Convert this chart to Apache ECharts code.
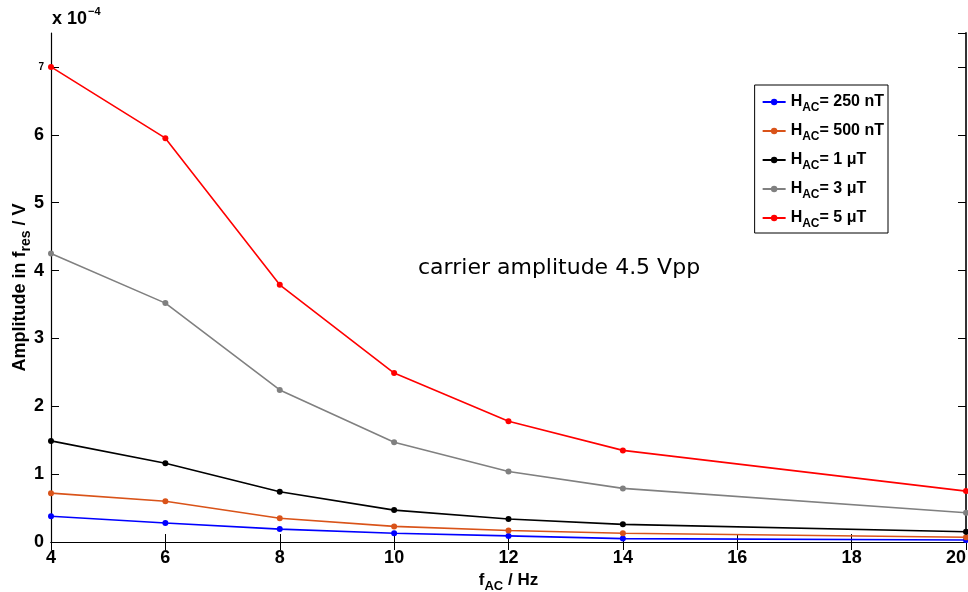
<!DOCTYPE html>
<html>
<head>
<meta charset="utf-8">
<script src="https://cdn.jsdelivr.net/npm/echarts@6/dist/echarts.min.js"></script>
<style>
  html, body { margin: 0; padding: 0; background: #fff; }
  #chart { width: 968px; height: 592px; }
</style>
</head>
<body>
<div id="chart"></div>
<script>
// frequency f_AC in Hz
const freqs = [4, 6, 8, 10, 12, 14, 20];
// field amplitude labels (legend)
const fields = ['250 nT', '500 nT', '1 μT', '3 μT', '5 μT'];
const colors = ['#0000ff', '#d95319', '#000000', '#808080', '#ff0000'];
// amplitude in f_res, units of 1e-4 V
const amp250n = [0.38, 0.28, 0.19, 0.13, 0.09, 0.05, 0.03];
const amp500n = [0.72, 0.60, 0.35, 0.23, 0.17, 0.13, 0.07];
const amp1u = [1.49, 1.16, 0.74, 0.47, 0.34, 0.26, 0.15];
const amp3u = [4.25, 3.52, 2.24, 1.47, 1.04, 0.79, 0.43];
const amp5u = [7.00, 5.95, 3.79, 2.49, 1.78, 1.35, 0.75];
const seriesValues = [amp250n, amp500n, amp1u, amp3u, amp5u];

const chart = echarts.init(document.getElementById('chart'));
const font = 'Liberation Sans, Arial, sans-serif';

const series = fields.map((f, i) => ({
  name: f,
  type: 'line',
  data: freqs.map((x, j) => [x, seriesValues[i][j]]),
  symbol: 'circle',
  symbolSize: 6,
  color: colors[i],
  lineStyle: { width: 1.6, color: colors[i] },
  itemStyle: { color: colors[i] },
  z: 2 + i
}));

const subRich = size => ({
  h: { fontFamily: font, fontWeight: 'bold', fontSize: size, color: '#000' },
  s: { fontFamily: font, fontWeight: 'bold', fontSize: size - 4, color: '#000', padding: [12, 0, 0, 0] }
});

const option = {
  animation: false,
  backgroundColor: '#fff',
  grid: { left: 51, right: 2, top: 33, bottom: 50, outerBoundsMode: 'none', containLabel: false },
  legend: {
    orient: 'vertical',
    right: 80,
    top: 85,
    backgroundColor: '#fff',
    borderColor: '#000',
    borderWidth: 1,
    borderRadius: 0,
    padding: [9, 4, 3, 7],
    itemGap: 9,
    itemWidth: 23,
    itemHeight: 8,
    data: fields,
    formatter: name => '{h|H}{s|AC}{h|= ' + name + '}',
    textStyle: { rich: subRich(16) }
  },
  xAxis: [{
    type: 'value',
    min: 4, max: 20, interval: 2,
    position: 'bottom',
    name: '{h|f}{s|AC}{h| / Hz}',
    nameLocation: 'middle',
    nameGap: 22,
    nameTextStyle: { rich: subRich(17) },
    axisLine: { lineStyle: { color: '#000', width: 1.2 } },
    axisTick: { inside: true, length: 8, lineStyle: { color: '#000' } },
    axisLabel: { margin: 7, alignMaxLabel: 'right', fontFamily: font, fontWeight: 'bold', fontSize: 18, color: '#000' },
    splitLine: { show: false }
  }, {
    type: 'value',
    min: 4, max: 20, interval: 2,
    position: 'top',
    axisLine: { lineStyle: { color: '#000', width: 1.2 } },
    axisTick: { inside: true, length: 8, lineStyle: { color: '#000' } },
    axisLabel: { show: false },
    splitLine: { show: false }
  }],
  yAxis: [{
    type: 'value',
    min: 0, max: 7.5, interval: 1,
    position: 'left',
    name: '{h|Amplitude in f}{s|res}{h| / V}',
    nameLocation: 'middle',
    nameGap: 18,
    nameMoveOverlap: false,
    nameTextStyle: { rich: subRich(18), padding: [0, 0, 0, 0] },
    axisLine: { lineStyle: { color: '#000', width: 1.2 } },
    axisTick: { inside: true, length: 8, lineStyle: { color: '#000' } },
    axisLabel: {
      margin: 7,
      showMaxLabel: false,
      formatter: v => v === 7 ? '{m|7}' : (Number.isInteger(v) ? '{n|' + v + '}' : ''),
      rich: {
        n: { fontFamily: font, fontWeight: 'bold', fontSize: 18, color: '#000' },
        m: { fontFamily: font, fontWeight: 'bold', fontSize: 10, color: '#000' }
      }
    },
    splitLine: { show: false }
  }, {
    type: 'value',
    min: 0, max: 7.5, interval: 1,
    position: 'right',
    axisLine: { lineStyle: { color: '#333', width: 2 } },
    axisTick: { inside: true, length: 8, lineStyle: { color: '#000' } },
    axisLabel: { show: false },
    splitLine: { show: false }
  }],
  graphic: [{
    type: 'text',
    left: 52,
    top: 6,
    style: {
      text: '{a|x 10}{b|−4}',
      rich: {
        a: { fontFamily: font, fontWeight: 'bold', fontSize: 18, color: '#000', padding: [7, 0, 0, 0] },
        b: { fontFamily: font, fontWeight: 'bold', fontSize: 11, color: '#000', padding: [0, 0, 9, 1] }
      }
    }
  }, {
    type: 'text',
    left: 418,
    top: 257,
    style: {
      text: 'carrier amplitude 4.5 Vpp',
      fontFamily: 'DejaVu Sans',
      fontSize: 22,
      fill: '#000'
    }
  }],
  series: series
};

chart.setOption(option);
</script>
</body>
</html>
